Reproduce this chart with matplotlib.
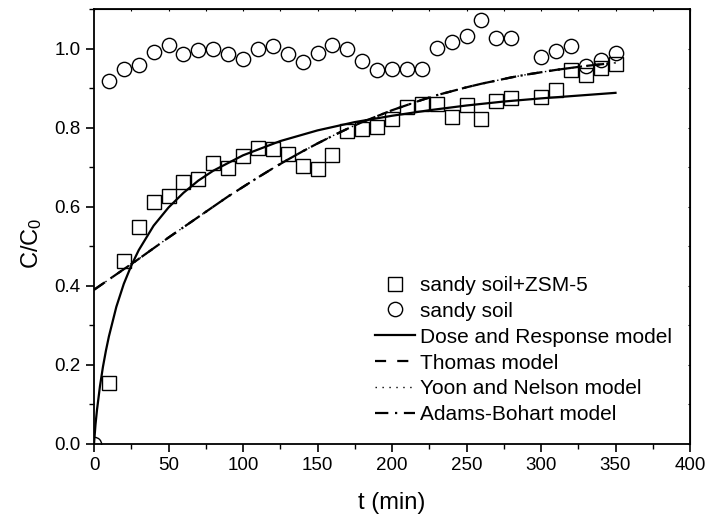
import matplotlib
matplotlib.use("Agg")
import matplotlib.pyplot as plt
from matplotlib.ticker import MultipleLocator

plt.rcParams['font.family'] = ['Liberation Sans', 'DejaVu Sans']
plt.rcParams['mathtext.fontset'] = 'custom'
plt.rcParams['mathtext.rm'] = 'Liberation Sans'
plt.rcParams['mathtext.it'] = 'Liberation Sans'

# Experimental data
t_zsm = [10, 20, 30, 40, 50, 60, 70, 80, 90, 100, 110, 120, 130, 140, 150, 160, 170,
         180, 190, 200, 210, 220, 230, 240, 250, 260, 270, 280, 300, 310, 320, 330, 340, 350]
c_zsm = [0.155, 0.463, 0.55, 0.613, 0.628, 0.663, 0.671, 0.711, 0.699, 0.729, 0.749,
         0.747, 0.734, 0.704, 0.696, 0.731, 0.792, 0.797, 0.802, 0.823, 0.853, 0.86, 0.86,
         0.828, 0.856, 0.823, 0.868, 0.875, 0.877, 0.895, 0.945, 0.932, 0.952, 0.96]

t_soil = [0, 10, 20, 30, 40, 50, 60, 70, 80, 90, 100, 110, 120, 130, 140, 150, 160, 170,
          180, 190, 200, 210, 220, 230, 240, 250, 260, 270, 280, 300, 310, 320, 330, 340, 350]
c_soil = [0.0, 0.919, 0.948, 0.959, 0.992, 1.008, 0.985, 0.997, 1.0, 0.987, 0.973, 0.999,
          1.007, 0.986, 0.967, 0.99, 1.008, 0.999, 0.969, 0.946, 0.948, 0.948, 0.948, 1.001,
          1.016, 1.031, 1.071, 1.027, 1.027, 0.979, 0.993, 1.006, 0.955, 0.972, 0.99]

# Dose and Response model curve
t_dr = [0, 1, 2, 4, 6, 8, 10, 15, 20, 25, 30, 40, 50, 60, 70, 80, 100, 125, 150, 175,
        200, 225, 250, 275, 300, 325, 350]
c_dr = [0.0, 0.049, 0.086, 0.146, 0.195, 0.236, 0.272, 0.347, 0.405, 0.451, 0.490, 0.552,
        0.598, 0.635, 0.666, 0.691, 0.730, 0.766, 0.793, 0.814, 0.830, 0.844, 0.856, 0.866,
        0.874, 0.881, 0.888]

# Thomas / Yoon-Nelson / Adams-Bohart model curves (coincident)
t_mod = [0, 10, 20, 30, 40, 50, 60, 70, 80, 90, 100, 110, 120, 130, 140, 150, 160, 170,
         180, 190, 200, 210, 220, 230, 240, 250, 260, 270, 280, 290, 300, 310, 320, 330,
         340, 350]
c_mod = [0.390, 0.416, 0.442, 0.468, 0.495, 0.522, 0.548, 0.574, 0.600, 0.626, 0.650,
         0.674, 0.697, 0.719, 0.740, 0.760, 0.779, 0.797, 0.814, 0.829, 0.844, 0.857,
         0.870, 0.882, 0.892, 0.902, 0.911, 0.919, 0.927, 0.934, 0.940, 0.946, 0.951,
         0.956, 0.960, 0.964]

fig = plt.figure(figsize=(7.1, 5.25), dpi=100)
ax = fig.add_axes([94/710, 81/525, 596/710, 435/525])

ax.plot(t_zsm, c_zsm, linestyle='none', marker='s', markersize=9.8, markerfacecolor='none',
        markeredgecolor='black', markeredgewidth=1.0, label='sandy soil+ZSM-5')
ax.plot(t_soil, c_soil, linestyle='none', marker='o', markersize=10.3, markerfacecolor='none',
        markeredgecolor='black', markeredgewidth=1.0, label='sandy soil')
ax.plot(t_dr, c_dr, color='black', linewidth=1.6, linestyle='-', label='Dose and Response model')
ax.plot(t_mod, c_mod, color='black', linewidth=1.6, linestyle=(0, (5, 5)), label='Thomas model')
ax.plot(t_mod, c_mod, color='black', linewidth=1.0, linestyle=(0, (1, 4)), label='Yoon and Nelson model')
ax.plot(t_mod, c_mod, color='black', linewidth=1.6, linestyle=(0, (6, 3, 1, 3)), label='Adams-Bohart model')

ax.set_xlim(0, 400)
ax.set_ylim(0, 1.1)
ax.xaxis.set_major_locator(MultipleLocator(50))
ax.xaxis.set_minor_locator(MultipleLocator(25))
ax.yaxis.set_major_locator(MultipleLocator(0.2))
ax.yaxis.set_minor_locator(MultipleLocator(0.1))
ax.yaxis.set_major_formatter(matplotlib.ticker.FormatStrFormatter('%.1f'))

ax.tick_params(which='major', direction='out', length=6, width=1.2, labelsize=13.5,
               top=False, right=False)
ax.tick_params(which='minor', direction='out', length=3.5, width=1.0)
for s in ax.spines.values():
    s.set_linewidth(1.3)

# tiny inward ticks on top and right
ax_top = ax.secondary_xaxis('top')
ax_top.xaxis.set_major_locator(MultipleLocator(25))
ax_top.tick_params(direction='in', length=1.5, width=0.8, labeltop=False)
ax_right = ax.secondary_yaxis('right')
ax_right.yaxis.set_major_locator(MultipleLocator(0.1))
ax_right.tick_params(direction='in', length=1.5, width=0.8, labelright=False)

ax.set_xlabel('t (min)', fontsize=17, labelpad=13)
ax.set_ylabel('C/C$_0$', fontsize=17)
ax.yaxis.set_label_coords(-0.084, 0.462)

leg = ax.legend(loc='upper left', bbox_to_anchor=(0.447, 0.42), frameon=False, fontsize=15,
                handlelength=1.92, handletextpad=0.25, labelspacing=0.33, borderpad=0.2)

fig.savefig('out.png', dpi=100)
